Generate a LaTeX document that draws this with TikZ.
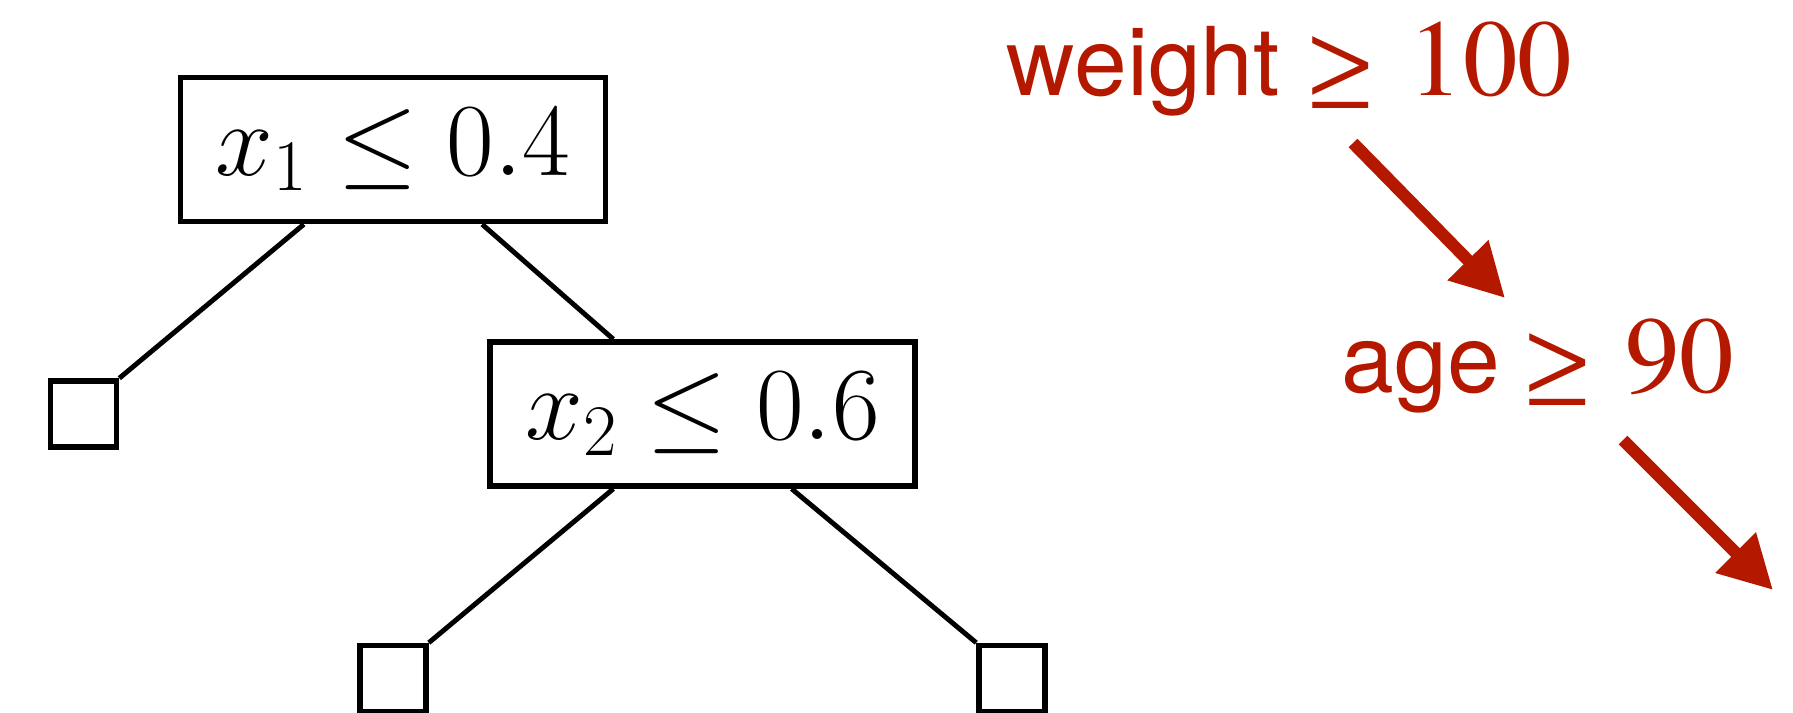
\documentclass[tikz,border=0pt]{standalone}
\usepackage{fix-cm}
\usepackage[T1]{fontenc}
\usepackage{fontspec}
\usepackage{amsmath,amssymb}
\usepackage{tikz}
\usetikzlibrary{arrows.meta,positioning,calc}
\newfontfamily\helvfont{TeX Gyre Heros}
\newcommand{\romanfig}{\fontencoding{T1}\fontfamily{ptm}\fontsize{31}{36}\selectfont}
\definecolor{rust}{RGB}{180,25,0}
\newcommand{\bigge}{\raisebox{-3.7pt}{\usefont{U}{psy}{m}{n}\fontsize{32}{38}\selectfont\symbol{"B3}}}

\begin{document}
\begin{tikzpicture}[
  split/.style={draw,line width=1.6pt,minimum width=4.25cm,minimum height=1.44cm,
                inner sep=0pt,font=\fontsize{29.5}{35}\selectfont},
  leaf/.style={draw,line width=1.6pt,minimum size=0.66cm,inner sep=0pt},
  link/.style={line width=1.4pt},
  cond/.style={rust,anchor=base west,inner sep=0pt},
  follow/.style={rust,line width=3.5pt,-{Triangle[length=5.3mm,width=5.4mm]}}
]
  \useasboundingbox (0,0) rectangle (17.93,-7.12);

  % Decision tree: two splits, three leaves
  \node[split] (r1) at (3.93,-1.495) {$x_1 \leq 0.4$};
  \node[split] (r2) at (7.025,-4.14) {$x_2 \leq 0.6$};
  \node[leaf] (l1) at (0.835,-4.14) {};
  \node[leaf] (l2) at (3.93,-6.785) {};
  \node[leaf] (l3) at (10.12,-6.785) {};

  \draw[link] (r1.220) -- (l1.north east);
  \draw[link] (r1.320) -- (r2.140);
  \draw[link] (r2.220) -- (l2.north east);
  \draw[link] (r2.320) -- (l3.north west);

  % Rule path in red
  \node[cond] (wt) at (10.06,-0.955)
    {\helvfont\fontsize{27}{30}\selectfont weight\hspace{8.5pt}\bigge\hspace{10.5pt}{\romanfig 100}};
  \node[cond] (ag) at (13.41,-3.92)
    {\helvfont\fontsize{27}{30}\selectfont age\hspace{7.5pt}\bigge\hspace{10.5pt}{\romanfig 90}};

  \coordinate (t1) at (13.53,-1.43);
  \coordinate (h1) at (15.05,-2.98);
  \coordinate (t2) at (16.23,-4.40);
  \coordinate (h2) at (17.73,-5.90);
  \draw[follow] (t1) -- (h1);
  \draw[follow] (t2) -- (h2);
\end{tikzpicture}
\end{document}
